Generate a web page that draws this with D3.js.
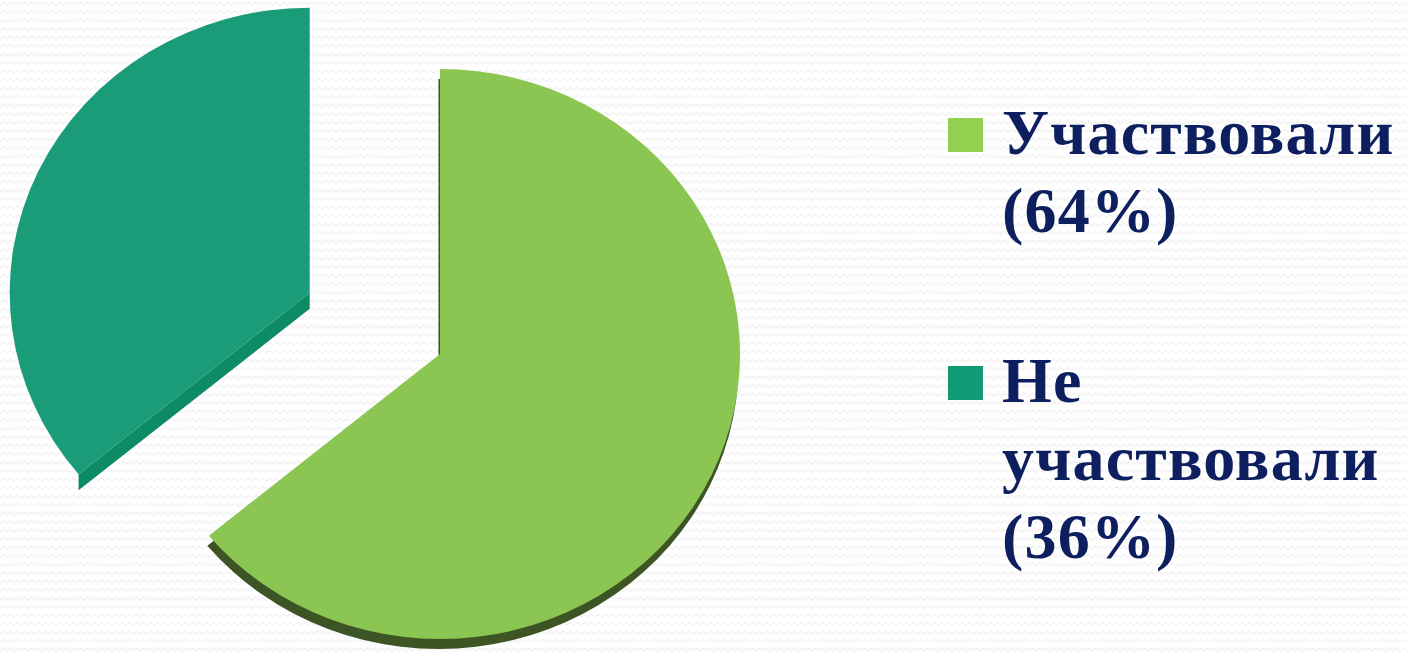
<!DOCTYPE html>
<html>
<head>
<meta charset="utf-8">
<script src="https://cdn.jsdelivr.net/npm/d3@7"></script>
<style>
  html, body { margin: 0; padding: 0; background: #ffffff; }
  svg { display: block; }
</style>
</head>
<body>
<svg id="pie_chart"></svg>
<script>
const categories = ["Участвовали", "Не участвовали"];
const values = [64, 36];
const explodeBy = [0, 144];

function makePieChart() {
    let w = 1407;
    let h = 655;

    let svg = d3.select('#pie_chart')
        .attr('width', w)
        .attr('height', h);

    // faint zigzag background like the slide template
    let defs = svg.append('defs');
    let pat = defs.append('pattern')
        .attr('id', 'zigzag')
        .attr('width', 7)
        .attr('height', 8.5)
        .attr('patternUnits', 'userSpaceOnUse');
    pat.append('path')
        .attr('d', 'M0,5 L3.5,2 L7,5')
        .attr('fill', 'none')
        .attr('stroke', '#f1f1f1')
        .attr('stroke-width', 1.4);
    svg.append('rect')
        .attr('width', w)
        .attr('height', h)
        .attr('fill', 'url(#zigzag)');

    let topColor = d3.scaleOrdinal().domain(categories).range(["#8cc652", "#1a9c78"]);
    let sideColor = d3.scaleOrdinal().domain(categories).range(["#3d5424", "#0d8a66"]);
    let keyColor = d3.scaleOrdinal().domain(categories).range(["#92d050", "#129a76"]);
    let depth = d3.scaleOrdinal().domain(categories).range([10, 16]);

    let cx = 440, cy = 354, r = 300, squash = 0.95;

    let pie = d3.pie().sort(null).value(d => d.value);
    let arcs = pie(categories.map((c, i) => ({ name: c, value: values[i], explode: explodeBy[i] })));

    let arc = d3.arc().innerRadius(0).outerRadius(r);

    let slices = svg.selectAll('g.slice')
        .data(arcs)
        .enter()
        .append('g')
        .attr('class', 'slice')
        .attr('transform', d => {
            let mid = (d.startAngle + d.endAngle) / 2;
            let dx = d.data.explode * Math.sin(mid);
            let dy = -d.data.explode * Math.cos(mid);
            return `translate(${cx + dx}, ${cy + dy}) scale(1, ${squash})`;
        });

    // side (thickness): whole rim if the slice faces the viewer, else only the cut edge
    function sidePath(d) {
        if (d.startAngle <= Math.PI && d.endAngle >= Math.PI) return arc(d);
        let a = d.startAngle;
        let dd = depth(d.data.name) / squash;
        let ox = r * Math.sin(a), oy = -r * Math.cos(a);
        return `M0,0L${ox},${oy}L${ox},${oy + dd}L0,${dd}Z`;
    }

    slices.append('path')
        .attr('d', sidePath)
        .attr('transform', d => {
            let full = d.startAngle <= Math.PI && d.endAngle >= Math.PI;
            return full ? `translate(-1.5, ${depth(d.data.name) / squash})` : null;
        })
        .attr('fill', d => sideColor(d.data.name));

    slices.append('path')
        .attr('d', arc)
        .attr('fill', d => topColor(d.data.name));

    // legend
    let legend = svg.append('g').attr('class', 'legend');
    let fontSize = 64, lineH = 78, gap = 92, maxW = 400;
    let textX = 1002, y = 154;

    categories.forEach((c, i) => {
        let label = `${c} (${values[i]}%)`;
        let g = legend.append('g');
        let t = g.append('text')
            .attr('x', textX)
            .attr('font-family', '"Liberation Serif", "DejaVu Serif", serif')
            .attr('font-weight', 'bold')
            .attr('font-size', fontSize)
            .attr('letter-spacing', 1.2)
            .attr('fill', '#0d1f5e');

        // word wrap to the legend width
        let words = label.split(' ');
        let lines = [];
        let cur = '';
        let probe = t.append('tspan');
        words.forEach(wd => {
            let test = cur ? cur + ' ' + wd : wd;
            probe.text(test);
            if (cur && probe.node().getComputedTextLength() > maxW) {
                lines.push(cur);
                cur = wd;
            } else {
                cur = test;
            }
        });
        lines.push(cur);
        probe.remove();

        lines.forEach((ln, j) => {
            t.append('tspan')
                .attr('x', textX)
                .attr('y', y + j * lineH)
                .text(ln);
        });

        g.append('rect')
            .attr('x', 948)
            .attr('y', y - 36)
            .attr('width', 35)
            .attr('height', 34)
            .attr('fill', keyColor(c));

        y += lines.length * lineH + gap;
    });
}

window.onload = function() {
    makePieChart();
}
</script>
</body>
</html>
